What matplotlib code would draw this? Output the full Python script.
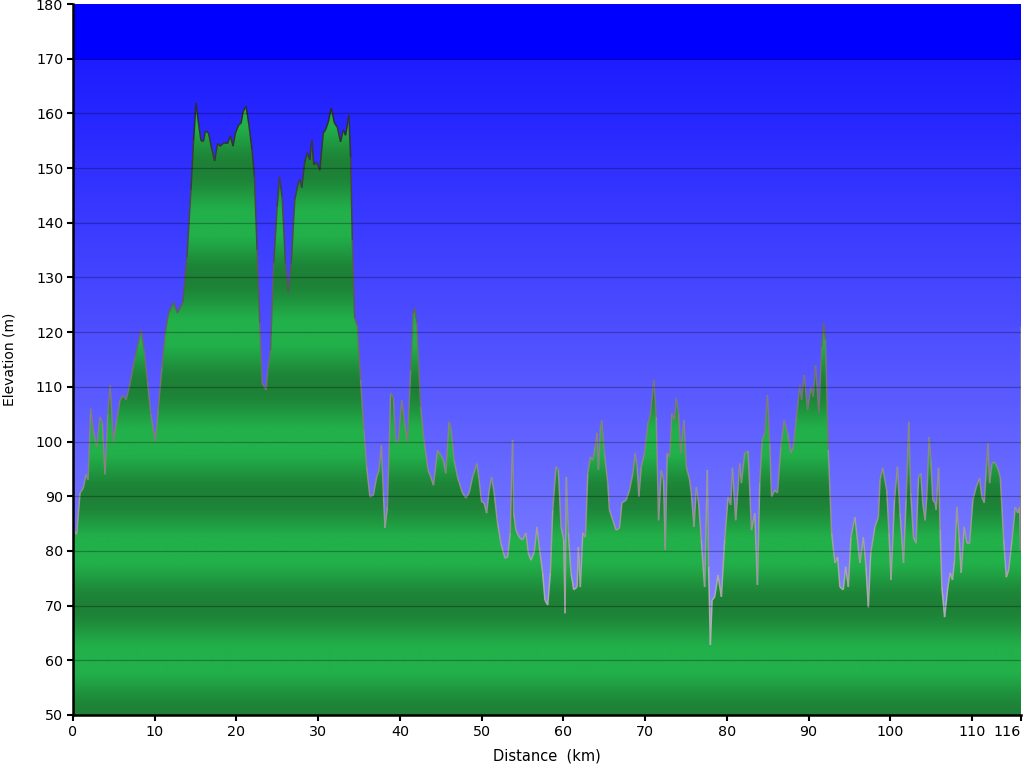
import numpy as np
import matplotlib
matplotlib.use('Agg')
import matplotlib.pyplot as plt
from matplotlib.collections import LineCollection

# elevation profile (km, m)
dist_km = [
    0.0, 0.45, 0.86, 1.26, 1.6, 1.84, 2.17, 2.49, 2.9, 3.31, 3.59, 3.92, 4.26, 4.54, 4.94,
    5.36, 5.76, 6.17, 6.5, 6.99, 7.6, 8.34, 8.71, 9.11, 9.53, 10.06, 10.42, 10.88, 11.28,
    11.69, 12.3, 12.79, 13.45,
    13.94, 14.43, 14.75, 15.05, 15.36, 15.66, 15.98, 16.19, 16.59, 17.01, 17.33, 17.69,
    18.03, 18.36, 18.92, 19.25, 19.58, 19.87, 20.27, 20.56, 20.81, 21.18, 21.5, 21.91,
    22.2, 22.53, 22.85, 23.14, 23.42, 23.63, 23.83, 24.16, 24.56, 24.98, 25.26, 25.59,
    26.0, 26.33, 26.7, 27.14, 27.5, 27.75, 28.0, 28.33, 28.66, 28.98, 29.22, 29.47, 29.8,
    30.2, 30.62, 30.9, 31.23, 31.6, 32.0, 32.34, 32.74, 33.07, 33.35, 33.76, 33.97, 34.18,
    34.46, 34.79,
    35.19, 35.6, 35.93, 36.33, 36.75, 37.15, 37.44, 37.73, 37.98, 38.17, 38.47, 38.87,
    39.2, 39.48, 39.77, 40.22, 40.59, 40.92, 41.32, 41.61, 41.81, 42.06, 42.55, 42.95,
    43.44, 43.78, 44.11, 44.6, 45.0, 45.33, 45.61, 46.02, 46.23, 46.63, 47.05, 47.66,
    48.07, 48.47, 48.89, 49.42, 49.7, 49.99, 50.31, 50.61, 50.92, 51.22, 51.54, 51.95,
    52.36, 52.85, 53.18, 53.5, 53.79, 53.92, 54.2, 54.6, 55.02, 55.42, 55.71, 56.04,
    56.44, 56.77, 57.06, 57.47, 57.75, 58.09, 58.41, 58.7, 59.1, 59.39, 59.72, 60.05,
    60.21, 60.37, 60.61, 60.94, 61.27, 61.68, 61.84, 62.08, 62.38, 62.7, 62.99, 63.31,
    63.6, 63.89, 64.13, 64.29, 64.54, 64.71, 65.03, 65.44, 65.64, 66.06, 66.46, 66.87,
    67.16, 67.69, 68.09, 68.51, 68.79, 69.04, 69.24, 69.53, 69.93, 70.35, 70.67, 71.08,
    71.37, 71.65, 71.98, 72.26, 72.47, 72.71, 73.0, 73.29, 73.61, 73.82, 74.1, 74.35,
    74.76, 75.05, 75.45,
    75.66, 75.99, 76.27, 76.55, 76.88, 77.29, 77.62, 77.78, 77.99, 78.2, 78.52, 78.93,
    79.34, 79.74, 80.16, 80.48, 80.69, 81.09, 81.38, 81.58, 81.79, 82.19, 82.61, 83.02,
    83.42, 83.75, 84.03, 84.33, 84.65, 84.98, 85.26, 85.47, 85.87, 86.2, 86.61, 87.02,
    87.43, 87.83, 88.13, 88.53, 88.94, 89.15, 89.48, 89.88, 90.29, 90.58, 90.86, 91.27,
    91.6, 91.85, 92.09, 92.42, 92.83, 93.23, 93.56, 93.84, 94.26, 94.54, 94.87, 95.19,
    95.68, 96.29, 96.71, 97.03, 97.32, 97.61, 98.13, 98.55, 98.75, 99.08, 99.57, 99.85,
    100.1, 100.52, 100.88, 101.2, 101.62, 101.94, 102.27, 102.51, 102.84, 103.16, 103.46,
    103.74, 103.98, 104.27, 104.47, 104.76, 104.97, 105.21, 105.49, 105.62, 105.91,
    106.11, 106.32, 106.65, 107.05, 107.33, 107.62, 107.87, 108.15, 108.43, 108.68,
    109.05, 109.38, 109.71, 110.11, 110.52, 110.93, 111.21, 111.5, 111.74, 111.95,
    112.16, 112.44, 112.73, 113.14, 113.46, 113.67, 113.88, 114.2, 114.49, 114.9, 115.3,
    115.6, 115.84, 115.95, 116.0,
]
elev_m = [
    84, 83, 90.6, 91.5, 94, 93, 106, 102, 99, 104.5, 103.4, 94, 105, 110.3, 100,
    104, 107.6, 108.5, 107.6, 110.7, 115.5, 120.4, 116.7, 111, 105, 100, 105.8, 113.6, 119.8,
    123.5, 125.5, 123.5, 125.5,
    133.7, 146, 155, 161.9, 158.2, 155, 155, 156.8, 156.4, 153.3, 151.3, 154.5,
    154, 154.5, 154.5, 155.9, 154, 156.4, 157.9, 158.2, 160.3, 161.3, 158.2, 153.3,
    148.4, 135, 121.7, 110.7, 110, 109.4, 113, 116.7, 132.6, 142.9, 148.4, 144.7,
    132.6, 127.2, 132.6, 144.2, 146.9, 148, 146.4, 150.9, 152.8, 151.5, 155.1, 150.6, 151.1,
    149.6, 156.4, 157, 158.4, 161, 158.2, 157.5, 154.8, 157, 156, 159.7, 152, 136.8,
    122.6, 121.3,
    111.3, 102.1, 95.4, 89.9, 90.2, 93.5, 94.8, 99.4, 90.6, 84.2, 88, 108.9,
    108, 100.3, 99.7, 107.6, 103.4, 99.9, 113, 123.5, 124.4, 121.7, 106.3, 100.3,
    94.8, 93.5, 92, 98.4, 97.5, 96.6, 94.2, 103.6, 102.7, 96.6, 93.5, 90.6,
    89.7, 90.6, 93.5, 96, 93, 89, 88.8, 86.9, 91.1, 93.5, 90.6, 85.1,
    81.4, 78.7, 78.9, 83.3, 100.3, 86.9, 83.8, 82.5, 82, 83.3, 79.6, 78.3,
    79.8, 84.4, 80.7, 76, 71, 70.1, 76, 87.5, 95.4, 94.8, 84.4, 82,
    68.6, 93.5, 83.3, 76, 72.9, 73.4, 80.7, 73.4, 83.3, 82.5, 94.2, 97.2,
    96.6, 99, 101.6, 94.8, 102.7, 103.9, 97.9, 92.4, 87.5, 85.6, 83.8, 84.2,
    88.8, 89.3, 91.1, 94.2, 97.9, 95.4, 89.9, 95.4, 97.9, 103.4, 105.2, 111.3,
    104.5, 85.6, 94.8, 93, 80.2, 97.9, 97.2, 105.2, 103.9, 108, 105.2, 97.9,
    103.9, 95.4, 93,
    90.6, 84.4, 91.7, 88.8, 82, 73.4, 94.8, 77.1, 62.8, 71, 71.6, 75.6,
    71.6, 82, 89.9, 88.4, 95.2, 85.6, 91.7, 96, 92.4, 97.9, 98.3, 83.8,
    86.9, 73.8, 92.4, 100.3, 101.6, 108.5, 99.7, 89.9, 91.1, 90.6, 99, 103.9,
    101.6, 97.9, 99, 104.5, 110.3, 107.6, 112.2, 105.8, 110, 108.2, 114, 105.2,
    117.3, 121.7, 118.6, 98.5, 83.3, 77.8, 78.9, 73.4, 72.9, 77.1, 73.4, 82.5,
    86.2, 77.8, 82.5, 77.1, 69.7, 79.6, 84.4, 86.2, 93, 95.2, 91.1, 83.3,
    74.7, 89.3, 95.4, 86.9, 77.8, 89.3, 103.6, 90.6, 82.5, 81.4, 93.5,
    94.2, 88.8, 85.6, 89.9, 100.8, 96.6, 89.3, 88.8, 87.5, 95.2,
    83.8, 73.4, 67.9, 73.4, 76, 74.7, 78.3, 88, 82.5, 76,
    84.4, 81.4, 81.4, 89.3, 91.7, 93.3, 89.9, 88.8, 94.8, 99.7,
    92.4, 96, 96.3, 95.2, 93.5, 88, 82, 75.2, 76.5, 82, 88,
    86.9, 88, 80, 121,
]

x_ticks = [0, 10, 20, 30, 40, 50, 60, 70, 80, 90, 100, 110, 116]
y_ticks = list(range(50, 181, 10))
x_max = 116
y_min, y_max = 50, 180

x = np.array(dist_km)
y = np.array(elev_m)

fig = plt.figure(figsize=(10.24, 7.68), dpi=100)
ax = fig.add_axes([73 / 1024, 53 / 768, 948 / 1024, 711 / 768])
ax.set_xlim(0, x_max)
ax.set_ylim(y_min, y_max)

# sky: solid blue band on top, then blue -> pale blue gradient
h = np.linspace(y_max, y_min, 600)
t = np.clip((170 - h) / 120, 0, 1)
sky = np.zeros((600, 1, 3))
sky[:, 0, 0] = np.where(h > 170, 0, 28 + 120 * t) / 255
sky[:, 0, 1] = np.where(h > 170, 0, 28 + 122 * t) / 255
sky[:, 0, 2] = 1.0
ax.imshow(sky, extent=[0, x_max, y_min, y_max], aspect='auto', zorder=0, interpolation='bilinear')

# ground: green with repeating light/dark bands every 20 m
phase = np.cos((h - 60) / 20 * 2 * np.pi)
k = np.clip((phase + 1) / 2 * 1.15, 0, 1)
light = np.array([34, 176, 74]) / 255
dark = np.array([29, 128, 54]) / 255
ground = (dark[None, :] + (light - dark)[None, :] * k[:, None])[:, None, :]
poly = ax.fill_between(x, y, y_min, facecolor='none', edgecolor='none', zorder=1)
img = ax.imshow(ground, extent=[0, x_max, y_min, y_max], aspect='auto', zorder=1,
                interpolation='bilinear')
img.set_clip_path(poly.get_paths()[0], transform=ax.transData)

# outline: darker on the high parts, light grey on the low parts
pts = np.column_stack([x, y])
segs = np.stack([pts[:-1], pts[1:]], axis=1)
mid = (y[:-1] + y[1:]) / 2
g = np.interp(mid, [70, 160], [175, 45]) / 255
lc = LineCollection(segs, colors=np.column_stack([g, g, g]), linewidths=1.1, zorder=2)
ax.add_collection(lc)

for v in range(60, 180, 10):
    ax.axhline(v, color='black', alpha=0.28, lw=0.9, zorder=3)

ax.set_xticks(x_ticks)
ax.set_yticks(y_ticks)
ax.tick_params(direction='out', length=4, width=1.5, labelsize=10.3, pad=3)
ax.get_xticklabels()[-1].set_horizontalalignment('right')
for s in ['top', 'right']:
    ax.spines[s].set_visible(False)
for s in ['left', 'bottom']:
    ax.spines[s].set_linewidth(1.8)
ax.set_xlabel('Distance  (km)', fontsize=10.5, labelpad=7)
ax.set_ylabel('Elevation (m)', fontsize=10, labelpad=14)

fig.savefig('out.png', dpi=100)
